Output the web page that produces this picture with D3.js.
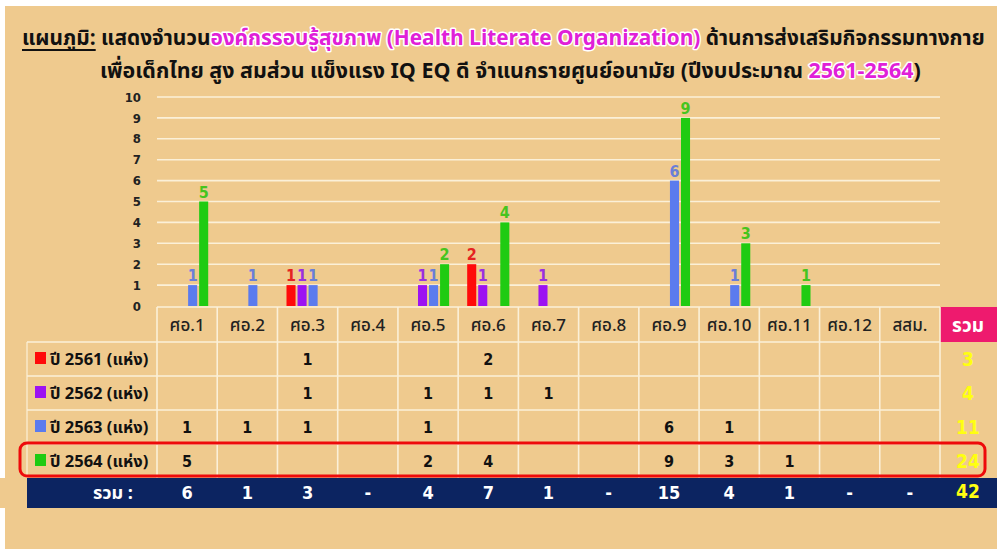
<!DOCTYPE html>
<html><head><meta charset="utf-8">
<script src="https://cdn.jsdelivr.net/npm/d3@7"></script>
<style>
html,body{margin:0;padding:0;background:#fff;}
svg{display:block;}
text{font-family:"Noto Sans Thai","Noto Sans","Loma","Garuda",sans-serif;}
</style></head>
<body>
<svg id="chart" width="997" height="549"></svg>
<script>
const categories = ["ศอ.1","ศอ.2","ศอ.3","ศอ.4","ศอ.5","ศอ.6","ศอ.7","ศอ.8","ศอ.9","ศอ.10","ศอ.11","ศอ.12","สสม."];
const seriesNames = ["ปี 2561 (แห่ง)","ปี 2562 (แห่ง)","ปี 2563 (แห่ง)","ปี 2564 (แห่ง)"];
const v2561 = [0,0,1,0,0,2,0,0,0,0,0,0,0];
const v2562 = [0,0,1,0,1,1,1,0,0,0,0,0,0];
const v2563 = [1,1,1,0,1,0,0,0,6,1,0,0,0];
const v2564 = [5,0,0,0,2,4,0,0,9,3,1,0,0];
const seriesColors = ["#ff0a0a","#9c12f2","#5b7bee","#1fcb12"];
const labelColors = ["#e52222","#9a30e0","#6a7ed8","#46c41e"];
const yTicks = [0,1,2,3,4,5,6,7,8,9,10];
const totalLabel = "รวม";
const totalRowLabel = "รวม :";

const seriesValues = [v2561, v2562, v2563, v2564];
const NUMFONT = "'DejaVu Sans Condensed','DejaVu Sans',sans-serif";

const svg = d3.select("#chart");
const BG = "#efca8e";
svg.append("rect").attr("width",997).attr("height",549).attr("fill","#fff");
svg.append("rect").attr("x",5).attr("y",6).attr("width",992).attr("height",543).attr("fill",BG);
svg.append("rect").attr("x",0).attr("y",478).attr("width",8).attr("height",30).attr("fill",BG);

// scales
const x0 = d3.scaleBand().domain(categories).range([157,940]).padding(0);
const x1 = d3.scaleBand().domain(d3.range(4)).range([x0.bandwidth()*0.15, x0.bandwidth()*0.85]).paddingInner(0.18).paddingOuter(0);
const y = d3.scaleLinear().domain([0,10]).range([306,97]);

// gridlines
svg.append("g").selectAll("line").data(yTicks.filter(d=>d>0)).join("line")
  .attr("x1",157).attr("x2",940).attr("y1",d=>y(d)).attr("y2",d=>y(d))
  .attr("stroke","#fbf0d8").attr("stroke-width",1.6);

// y axis
const yAxis = d3.axisLeft(y).tickValues(yTicks).tickSize(0).tickPadding(0).tickFormat(d3.format("d"));
const ya = svg.append("g").attr("transform","translate(141,0)").call(yAxis);
ya.select(".domain").remove();
ya.selectAll("text").attr("font-size",13).attr("font-weight","bold").attr("fill","#222")
  .style("font-family",NUMFONT).attr("dy","0.32em");

// bars
const groups = svg.append("g").selectAll("g").data(categories).join("g")
  .attr("transform",d=>`translate(${x0(d)},0)`);
const barData = (c,ci)=>seriesValues.map((arr,si)=>({si,v:arr[ci]})).filter(d=>d.v>0);
groups.each(function(c,ci){
  const g = d3.select(this);
  const bd = barData(c,ci);
  g.selectAll("rect").data(bd).join("rect")
    .attr("x",d=>x1(d.si)).attr("width",x1.bandwidth())
    .attr("y",d=>y(d.v)).attr("height",d=>y(0)-y(d.v))
    .attr("fill",d=>seriesColors[d.si]);
  g.selectAll("text").data(bd).join("text")
    .attr("x",d=>x1(d.si)+x1.bandwidth()/2).attr("y",d=>y(d.v)-4)
    .attr("text-anchor","middle").attr("font-size",16).attr("font-weight","bold")
    .style("font-family",NUMFONT)
    .attr("fill",d=>labelColors[d.si]).text(d=>d.v);
});

// table
const headTop = 307, rowH = 34, rowTops = [342,376,410,444], navyTop = 478, navyH = 30;
const tbl = svg.append("g");
tbl.append("rect").attr("x",27).attr("y",navyTop).attr("width",970).attr("height",navyH).attr("fill","#0c2461");
tbl.append("rect").attr("x",940).attr("y",headTop).attr("width",57).attr("height",35).attr("fill","#ee1a6e");
const lc = "#fbf0d8";
tbl.append("line").attr("x1",157).attr("x2",940).attr("y1",headTop).attr("y2",headTop).attr("stroke",lc).attr("stroke-width",1.6);
tbl.selectAll(".hl").data(rowTops).join("line").attr("class","hl")
  .attr("x1",27).attr("x2",940).attr("y1",d=>d).attr("y2",d=>d).attr("stroke",lc).attr("stroke-width",1.6);
const vx = categories.map(c=>x0(c)).concat([940]);
tbl.selectAll(".vl").data(vx).join("line").attr("class","vl")
  .attr("x1",d=>d).attr("x2",d=>d).attr("y1",headTop).attr("y2",navyTop).attr("stroke",lc).attr("stroke-width",1.6);
tbl.append("line").attr("x1",27).attr("x2",27).attr("y1",342).attr("y2",navyTop).attr("stroke",lc).attr("stroke-width",1.2);

// header labels
tbl.selectAll(".hd").data(categories).join("text").attr("class","hd")
  .attr("x",d=>x0(d)+x0.bandwidth()/2).attr("y",headTop+18).attr("dy","0.35em")
  .attr("text-anchor","middle").attr("font-size",17).attr("fill","#222").attr("font-weight",500).text(d=>d);
tbl.append("text").attr("x",968).attr("y",headTop+18).attr("dy","0.35em").attr("text-anchor","middle")
  .attr("font-size",19).attr("font-weight","bold").attr("fill","#fff").text(totalLabel);

// row labels
seriesNames.forEach((name,si)=>{
  const cy = rowTops[si]+rowH/2;
  tbl.append("rect").attr("x",35).attr("y",cy-7).attr("width",11).attr("height",12).attr("fill",seriesColors[si]);
  tbl.append("text").attr("x",50).attr("y",cy).attr("dy","0.35em").attr("font-size",16.5).attr("font-weight","bold")
    .attr("fill","#111").text(name);
  tbl.selectAll(".c"+si).data(seriesValues[si]).join("text").attr("class","c"+si)
    .attr("x",(d,i)=>x0(categories[i])+x0.bandwidth()/2).attr("y",cy).attr("dy","0.35em")
    .attr("text-anchor","middle").attr("font-size",16).attr("font-weight","bold").attr("fill","#111")
    .style("font-family",NUMFONT)
    .text(d=>d>0?d:"");
  tbl.append("text").attr("x",968).attr("y",cy).attr("dy","0.35em").attr("text-anchor","middle")
    .attr("font-size",19).attr("font-weight","bold").attr("fill","#ffff10")
    .style("font-family",NUMFONT).text(d3.sum(seriesValues[si]));
});

// totals row
const colTotals = categories.map((c,i)=>d3.sum(seriesValues,a=>a[i]));
const ncy = navyTop+navyH/2;
tbl.append("text").attr("x",133).attr("y",ncy).attr("dy","0.35em").attr("text-anchor","end")
  .attr("font-size",18).attr("font-weight","bold").attr("fill","#fff").text(totalRowLabel);
tbl.selectAll(".tt").data(colTotals).join("text").attr("class","tt")
  .attr("x",(d,i)=>x0(categories[i])+x0.bandwidth()/2).attr("y",ncy).attr("dy","0.35em")
  .attr("text-anchor","middle").attr("font-size",18).attr("font-weight","bold").attr("fill","#fff")
  .style("font-family",NUMFONT).text(d=>d>0?d:"-");
tbl.append("text").attr("x",968).attr("y",ncy-2).attr("dy","0.35em").attr("text-anchor","middle")
  .attr("font-size",19).attr("font-weight","bold").attr("fill","#ffff10")
  .style("font-family",NUMFONT).text(d3.sum(colTotals));

// highlight box
svg.append("rect").attr("x",20).attr("y",443).attr("width",965).attr("height",33).attr("rx",7)
  .attr("fill","none").attr("stroke","#ee0a0a").attr("stroke-width",3);

// title
function titleLine(parts, yb, x0t, x1t){
  const t = svg.append("text").attr("y",yb).attr("font-size",20).attr("font-weight","bold").attr("x",x0t);
  parts.forEach(p=>{
    const ts = t.append("tspan").text(p.t).attr("fill",p.c||"#111");
    if(p.hl) ts.attr("stroke","#fff").attr("stroke-width",3).attr("paint-order","stroke").attr("stroke-linejoin","round");
    p.node = ts.node();
  });
  const w = t.node().getComputedTextLength();
  const fs = 20*(x1t-x0t)/w;
  t.attr("font-size",fs);
  return {t,parts,fs};
}
const l1 = titleLine([
  {t:"แผนภูมิ:", u:true},
  {t:" แสดงจำนวน"},
  {t:"องค์กรรอบรู้สุขภาพ (Health Literate Organization)", c:"#e020d8", hl:true},
  {t:" ด้านการส่งเสริมกิจกรรมทางกาย"}
], 45, 22, 985);
const uw = l1.parts[0].node.getComputedTextLength();
svg.append("line").attr("x1",22).attr("x2",22+uw).attr("y1",50).attr("y2",50).attr("stroke","#111").attr("stroke-width",2);
titleLine([
  {t:"เพื่อเด็กไทย สูง สมส่วน แข็งแรง IQ EQ ดี จำแนกรายศูนย์อนามัย (ปีงบประมาณ "},
  {t:"2561-2564", c:"#e020d8", hl:true},
  {t:")"}
], 78, 100, 921);
</script>
</body></html>
